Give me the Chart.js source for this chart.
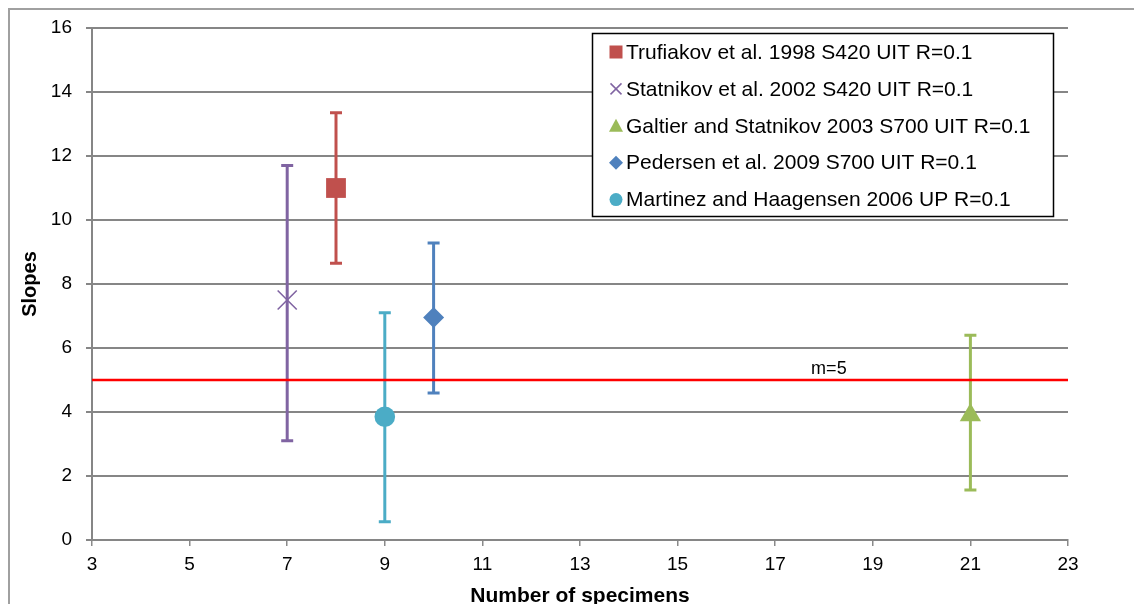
<!DOCTYPE html>
<html>
<head>
<meta charset="utf-8">
<script src="https://cdn.jsdelivr.net/npm/chart.js@4.4.1/dist/chart.umd.min.js"></script>
<style>
  html, body { margin: 0; padding: 0; background: #ffffff; }
  #wrap { width: 1134px; height: 604px; }
</style>
</head>
<body>
<div id="wrap"><canvas id="c" width="1134" height="604"></canvas></div>
<script>
// ---- data ----
const seriesLabels = [
  'Trufiakov et al. 1998 S420 UIT R=0.1',
  'Statnikov et al. 2002 S420 UIT R=0.1',
  'Galtier and Statnikov 2003 S700 UIT R=0.1',
  'Pedersen et al. 2009 S700 UIT R=0.1',
  'Martinez and Haagensen 2006 UP R=0.1'
];
const specimens = [8, 7, 21, 10, 9];
const slopes    = [11, 7.5, 3.9, 6.95, 3.85];
const slopeLow  = [8.65, 3.1, 1.56, 4.59, 0.57];
const slopeHigh = [13.35, 11.7, 6.4, 9.28, 7.1];
const xTickMin = 3, xTickMax = 23, xTickStep = 2;
const yTickMin = 0, yTickMax = 16, yTickStep = 2;
const refSlope = 5;
const refLabel = 'm=5';
const refLabelX = 18.1;
const xTitle = 'Number of specimens';
const yTitle = 'Slopes';

// ---- styles ----
const colors = ['#C0504D', '#8064A2', '#9BBB59', '#4F81BD', '#4BACC6'];
const pointStyles = ['rect', 'crossRot', 'triangle', 'rectRot', 'circle'];
const pointRadii = [14, 13.5, 12.3, 10.5, 10.3];
const FONT = '"Liberation Sans", Arial, Helvetica, sans-serif';

const datasets = seriesLabels.map((lab, i) => ({
  type: 'scatter',
  label: lab,
  data: [{ x: specimens[i], y: slopes[i] }],
  pointStyle: pointStyles[i],
  pointRadius: pointRadii[i],
  pointHoverRadius: pointRadii[i],
  backgroundColor: colors[i],
  borderColor: colors[i],
  borderWidth: pointStyles[i] === 'crossRot' ? 1.6 : 0,
  errLow: slopeLow[i],
  errHigh: slopeHigh[i],
  order: 1
}));
datasets.push({
  type: 'line',
  label: refLabel,
  data: [{ x: xTickMin, y: refSlope }, { x: xTickMax, y: refSlope }],
  borderColor: '#FF0000',
  borderWidth: 2.5,
  pointRadius: 0,
  fill: false,
  order: 2,
  isRef: true
});

const bgPlugin = {
  id: 'bg',
  beforeDraw(chart) {
    const ctx = chart.ctx;
    ctx.save();
    ctx.fillStyle = '#ffffff';
    ctx.fillRect(0, 0, chart.width, chart.height);
    ctx.strokeStyle = '#a0a0a0';
    ctx.lineWidth = 2;
    ctx.beginPath();
    ctx.moveTo(9, chart.height + 2);
    ctx.lineTo(9, 9);
    ctx.lineTo(chart.width + 2, 9);
    ctx.stroke();
    ctx.restore();
  }
};

const errPlugin = {
  id: 'errbars',
  beforeDatasetsDraw(chart) {
    const ctx = chart.ctx;
    const xs = chart.scales.x, ys = chart.scales.y;
    ctx.save();
    chart.data.datasets.forEach(ds => {
      if (ds.isRef) return;
      const p = ds.data[0];
      const px = xs.getPixelForValue(p.x);
      const pl = ys.getPixelForValue(ds.errLow);
      const ph = ys.getPixelForValue(ds.errHigh);
      ctx.strokeStyle = ds.borderColor;
      ctx.lineWidth = 3;
      ctx.beginPath();
      ctx.moveTo(px, pl);
      ctx.lineTo(px, ph);
      ctx.stroke();
      ctx.beginPath();
      ctx.moveTo(px - 6, pl); ctx.lineTo(px + 6, pl);
      ctx.moveTo(px - 6, ph); ctx.lineTo(px + 6, ph);
      ctx.stroke();
    });
    ctx.restore();
  },
  afterDatasetsDraw(chart) {
    const ctx = chart.ctx;
    const xs = chart.scales.x, ys = chart.scales.y;
    ctx.save();
    ctx.fillStyle = '#000000';
    ctx.font = '18px ' + FONT;
    ctx.textAlign = 'center';
    ctx.textBaseline = 'alphabetic';
    ctx.fillText(refLabel, xs.getPixelForValue(refLabelX), ys.getPixelForValue(refSlope) - 6);
    ctx.restore();
  }
};

function drawLegendMarker(ctx, style, color, x, y) {
  ctx.fillStyle = color;
  ctx.strokeStyle = color;
  ctx.beginPath();
  if (style === 'rect') {
    ctx.fillRect(x - 6.5, y - 6.5, 13, 13);
  } else if (style === 'crossRot') {
    ctx.lineWidth = 1.5;
    ctx.moveTo(x - 5.5, y - 5.5); ctx.lineTo(x + 5.5, y + 5.5);
    ctx.moveTo(x + 5.5, y - 5.5); ctx.lineTo(x - 5.5, y + 5.5);
    ctx.stroke();
  } else if (style === 'triangle') {
    ctx.moveTo(x, y - 7); ctx.lineTo(x + 7, y + 6); ctx.lineTo(x - 7, y + 6);
    ctx.closePath(); ctx.fill();
  } else if (style === 'rectRot') {
    ctx.moveTo(x, y - 7); ctx.lineTo(x + 7, y); ctx.lineTo(x, y + 7); ctx.lineTo(x - 7, y);
    ctx.closePath(); ctx.fill();
  } else {
    ctx.arc(x, y, 6.5, 0, Math.PI * 2); ctx.fill();
  }
}

const legendPlugin = {
  id: 'boxLegend',
  afterDraw(chart) {
    const ctx = chart.ctx;
    const bx = 592.5, by = 33.5, bw = 461, bh = 183;
    ctx.save();
    ctx.fillStyle = '#ffffff';
    ctx.fillRect(bx, by, bw, bh);
    ctx.strokeStyle = '#000000';
    ctx.lineWidth = 1.5;
    ctx.strokeRect(bx, by, bw, bh);
    const items = chart.data.datasets.filter(d => !d.isRef);
    ctx.font = '21px ' + FONT;
    ctx.textBaseline = 'middle';
    ctx.textAlign = 'left';
    items.forEach((d, i) => {
      const cy = 52 + i * 36.9;
      drawLegendMarker(ctx, d.pointStyle, d.backgroundColor, 616, cy);
      ctx.fillStyle = '#000000';
      ctx.fillText(d.label, 626, cy + 1);
    });
    ctx.restore();
  }
};

new Chart(document.getElementById('c'), {
  data: { datasets },
  options: {
    responsive: false,
    animation: false,
    events: [],
    layout: { padding: { left: 0, right: 66, top: 28, bottom: 0 } },
    plugins: {
      legend: { display: false },
      tooltip: { enabled: false },
      title: { display: false }
    },
    scales: {
      x: {
        type: 'linear',
        position: 'bottom',
        min: xTickMin, max: xTickMax,
        ticks: { stepSize: xTickStep, color: '#000000', font: { family: FONT, size: 19 }, padding: 7, maxRotation: 0 },
        grid: { drawOnChartArea: false, drawTicks: true, tickLength: 6, color: '#8a8a8a', lineWidth: 1.5 },
        border: { display: true, color: '#868686', width: 2 },
        title: { display: true, text: xTitle, color: '#000000', font: { family: FONT, size: 21, weight: 'bold', lineHeight: 1 }, padding: { top: 0, bottom: -3 } },
        afterFit(s) { s.height = 64; }
      },
      y: {
        type: 'linear',
        position: 'left',
        min: yTickMin, max: yTickMax,
        ticks: { stepSize: yTickStep, color: '#000000', font: { family: FONT, size: 19 }, padding: 14 },
        grid: { drawOnChartArea: true, drawTicks: true, tickLength: 6, color: '#868686', lineWidth: 2 },
        border: { display: true, color: '#868686', width: 2 },
        title: { display: true, text: yTitle, color: '#000000', font: { family: FONT, size: 20, weight: 'bold', lineHeight: 1 }, padding: { top: 20, bottom: 0 } },
        afterFit(s) { s.width = 92; }
      }
    }
  },
  plugins: [bgPlugin, errPlugin, legendPlugin]
});
</script>
</body>
</html>
